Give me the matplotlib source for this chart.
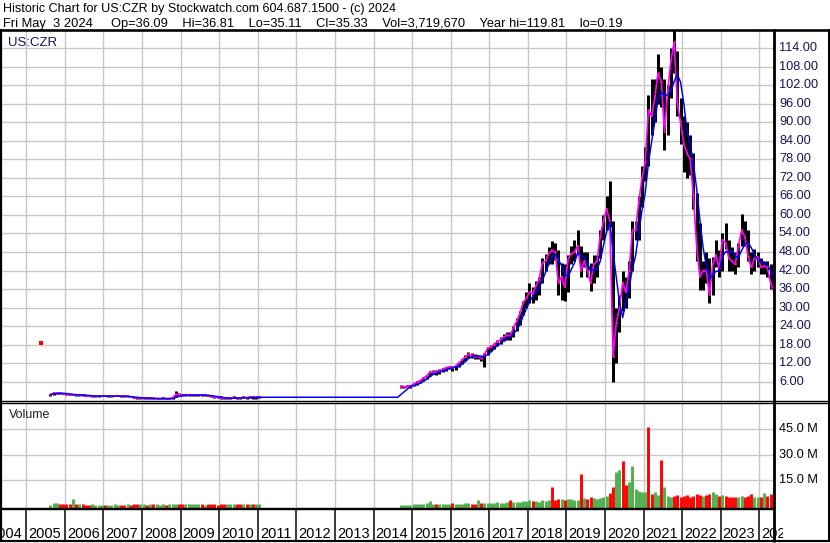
import numpy as np
import pandas as pd
import matplotlib
matplotlib.use('Agg')
import matplotlib.pyplot as plt
from matplotlib.lines import Line2D

plt.rcParams['font.family'] = ['Liberation Sans', 'DejaVu Sans']

# ---------------- data ----------------
header1 = "Historic Chart for US:CZR by Stockwatch.com 604.687.1500 - (c) 2024"
header2 = ("Fri May  3 2024     Op=36.09    Hi=36.81    Lo=35.11    Cl=35.33    "
           "Vol=3,719,670    Year hi=119.81    lo=0.19")
symbol = "US:CZR"

# early period, monthly, 2005-08 .. 2011-01
early_start = '2005-08'
early_high = [2.0, 2.3, 2.75, 2.7, 2.4,
              2.2, 2.1, 2.0, 2.0, 1.9, 1.9, 1.8, 1.6, 1.5, 1.5, 1.5, 1.6,
              1.6, 1.5, 1.5, 1.5, 1.6, 1.5, 1.4, 1.4, 1.3, 1.1, 1.0, 1.0,
              1.0, 0.9, 0.9, 0.9, 0.8, 0.8, 0.9, 0.8, 0.8, 0.9, 3.0, 2.2,
              2.0, 1.9, 1.9, 1.9, 1.9, 1.9, 1.9, 1.8, 1.8, 1.6, 1.4, 1.3,
              1.2, 1.1, 1.0, 1.0, 1.3, 1.1, 1.0, 1.2, 1.1, 1.3, 1.2, 1.1,
              1.2]
early_low = [1.5, 1.7, 2.0, 2.0, 1.9,
             1.7, 1.6, 1.6, 1.5, 1.5, 1.4, 1.3, 1.2, 1.1, 1.1, 1.1, 1.2,
             1.2, 1.1, 1.1, 1.2, 1.2, 1.1, 1.0, 1.0, 0.9, 0.6, 0.5, 0.5,
             0.5, 0.4, 0.4, 0.3, 0.3, 0.3, 0.4, 0.3, 0.3, 0.4, 0.9, 1.3,
             1.3, 1.3, 1.3, 1.4, 1.4, 1.4, 1.4, 1.3, 1.2, 1.0, 0.7, 0.6,
             0.5, 0.4, 0.4, 0.4, 0.6, 0.5, 0.4, 0.6, 0.5, 0.6, 0.5, 0.5,
             0.6]
early_close = [1.8, 2.2, 2.4, 2.3, 2.0,
               1.9, 1.8, 1.8, 1.7, 1.7, 1.6, 1.5, 1.3, 1.3, 1.3, 1.3, 1.4,
               1.3, 1.3, 1.3, 1.4, 1.4, 1.3, 1.2, 1.2, 1.0, 0.8, 0.7, 0.7,
               0.7, 0.6, 0.6, 0.5, 0.5, 0.5, 0.6, 0.5, 0.5, 0.7, 1.9, 1.7,
               1.6, 1.6, 1.6, 1.7, 1.7, 1.7, 1.6, 1.6, 1.5, 1.2, 1.0, 0.9,
               0.8, 0.6, 0.6, 0.6, 0.9, 0.7, 0.6, 0.9, 0.8, 1.0, 0.9, 0.9,
               0.95]
early_vol = [0.6, 1.5, 1.8, 1.2, 1.0,
             1.2, 1.3, 4.0, 1.0, 1.0, 0.9, 0.8, 0.8, 0.9, 0.8, 0.7, 0.8,
             0.8, 0.7, 0.8, 0.9, 0.8, 0.7, 0.8, 0.9, 0.8, 0.9, 1.0, 0.9,
             0.9, 0.8, 0.9, 1.0, 0.9, 0.8, 0.9, 0.8, 0.9, 1.0, 1.2, 1.0,
             1.0, 0.9, 0.9, 1.0, 0.9, 1.0, 0.9, 0.8, 0.9, 1.0, 0.9, 0.8,
             1.0, 1.1, 1.0, 0.9, 1.2, 1.0, 0.9, 1.1, 1.0, 1.2, 1.0, 0.9,
             0.9]

outlier_t = [2005.37]
outlier_p = [18.6]

# recent period, monthly, 2014-09 .. 2024-05
recent_start = '2014-09'
recent_high = [4.8, 4.7, 4.8, 5.0,
               5.6, 6.0, 6.6, 7.6, 8.2, 9.2, 9.8, 9.7, 10.0, 10.4, 10.9, 11.2,
               11.2, 11.5, 12.5, 13.5, 14.5, 15.6, 15.4, 14.8, 14.6, 14.6, 15.2, 17.2,
               18.0, 18.5, 19.5, 20.5, 21.5, 22.0, 22.0, 24.0, 26.6, 29.0, 32.0, 35.2,
               38.0, 36.5, 38.5, 40.0, 46.0, 47.5, 49.5, 51.5, 51.0, 48.5, 44.5, 44.0,
               47.0, 50.0, 52.0, 55.0, 50.0, 48.0, 48.0, 44.4, 47.0, 47.0, 55.0, 60.0,
               66.0, 71.1, 58.0, 30.0, 34.0, 42.0, 40.0, 45.0, 58.0, 58.0, 66.0, 76.0,
               82.0, 99.0, 104.0, 104.0, 112.0, 108.0, 104.0, 102.0, 114.0, 119.8, 113.0, 98.0,
               92.0, 90.0, 86.0, 80.0, 67.0, 57.4, 45.0, 48.0, 46.0, 46.5, 51.9, 48.6,
               54.0, 57.4, 52.0, 49.7, 48.0, 51.0, 60.3, 58.0, 55.0, 48.0, 49.0, 48.0,
               46.0, 45.0, 45.0, 44.0, 37.0]
recent_low = [4.1, 4.0, 4.2, 4.1,
              4.5, 5.0, 5.5, 6.2, 7.0, 7.8, 8.5, 8.2, 8.6, 9.2, 9.6, 10.0,
              9.6, 9.8, 10.8, 11.8, 12.8, 13.6, 13.8, 13.4, 13.2, 12.6, 10.9, 14.6,
              15.8, 16.5, 17.5, 18.2, 19.2, 19.5, 19.5, 20.5, 22.5, 24.5, 27.5, 30.0,
              31.5, 31.5, 32.5, 34.0, 38.0, 42.0, 44.0, 44.0, 45.5, 34.0, 32.5, 32.0,
              35.0, 44.0, 45.0, 47.0, 40.0, 43.0, 40.0, 35.5, 38.0, 40.0, 46.0, 52.0,
              55.0, 56.0, 6.0, 12.0, 22.0, 29.0, 30.0, 33.0, 42.0, 52.0, 52.0, 62.7,
              71.0, 76.0, 86.0, 90.0, 96.0, 95.0, 81.0, 86.0, 98.0, 106.0, 92.0, 83.0,
              74.0, 72.0, 73.0, 62.0, 45.0, 35.7, 35.7, 38.0, 31.5, 34.0, 43.2, 40.0,
              42.0, 49.0, 42.0, 42.0, 41.0, 43.0, 50.0, 50.0, 45.0, 41.0, 42.0, 43.0,
              41.0, 41.0, 40.0, 36.0, 35.0]
recent_close = [4.4, 4.4, 4.5, 4.6,
                5.2, 5.8, 6.3, 7.2, 7.8, 9.0, 9.2, 9.0, 9.5, 10.0, 10.5, 10.8,
                10.4, 11.0, 12.0, 13.0, 14.0, 14.8, 14.5, 14.0, 14.2, 13.5, 14.8, 16.8,
                17.2, 18.0, 19.0, 19.5, 20.5, 21.0, 20.8, 23.5, 25.5, 28.0, 31.5, 33.0,
                35.0, 34.5, 37.0, 39.0, 44.5, 45.0, 47.5, 48.5, 48.0, 38.0, 40.0, 36.5,
                45.5, 47.5, 48.0, 50.0, 42.0, 45.0, 42.0, 38.0, 44.0, 45.0, 53.0, 58.0,
                62.0, 58.0, 14.0, 25.0, 30.0, 38.0, 35.0, 42.0, 55.0, 55.0, 64.0, 72.0,
                77.0, 94.0, 92.0, 98.0, 106.0, 103.0, 87.0, 100.0, 110.0, 116.0, 96.0, 90.0,
                83.0, 80.0, 78.0, 66.0, 50.0, 40.0, 42.0, 42.0, 34.0, 44.0, 47.0, 42.5,
                52.0, 51.0, 46.0, 45.0, 44.0, 50.0, 55.0, 53.0, 46.5, 43.0, 46.0, 46.5,
                43.0, 43.5, 43.0, 38.0, 35.3]
recent_vol = [0.5, 0.6, 0.5, 0.7,
              1.0, 0.9, 1.2, 1.0, 1.5, 2.8, 1.2, 1.0, 1.1, 1.0, 1.2, 1.3,
              1.5, 1.4, 1.2, 1.3, 1.5, 1.6, 1.4, 1.3, 3.2, 1.5, 2.0, 1.8,
              1.8, 2.0, 2.2, 1.6, 2.0, 2.5, 3.5, 2.2, 2.5, 2.4, 2.8, 3.0,
              3.2, 3.0, 2.8, 2.5, 3.5, 3.0, 3.2, 11.0, 3.5, 4.0, 3.8, 3.5,
              4.0, 3.8, 3.5, 3.2, 18.7, 4.5, 4.0, 5.0, 4.5, 4.0, 4.5, 5.5,
              6.0, 7.5, 11.0, 20.0, 21.0, 26.0, 12.0, 14.0, 23.4, 10.0, 9.0, 8.0,
              8.0, 46.0, 7.0, 8.0, 6.5, 27.0, 11.0, 6.0, 5.5, 6.0, 6.5, 5.5,
              6.0, 6.5, 5.5, 6.0, 7.0, 6.5, 6.0, 6.5, 7.0, 8.0, 7.0, 6.0,
              6.5, 6.0, 5.5, 5.0, 5.5, 5.0, 6.0, 5.5, 6.0, 7.0, 5.5, 5.0,
              5.5, 7.7, 6.0, 7.0, 10.7]
# up (g) / down (r) volume colouring per month
recent_vol_dir = ('gggg' 'gggggggrgggg' 'rgggggrrgrgg' 'ggggggrggggg'
                  'grgggggrrrgr' 'ggggrgrrgggg' 'grrggrrggggg'
                  'grrggrgggrrr' 'rrrrrrgrrggr' 'grrrrggrrrgg' 'rgrrg')

price_ticks = [114, 108, 102, 96, 90, 84, 78, 72, 66, 60, 54, 48, 42, 36,
               30, 24, 18, 12, 6]
vol_ticks = [45, 30, 15]
vol_tick_labels = ['45.0 M', '30.0 M', '15.0 M']
year_labels = list(range(2004, 2025))

# ---------------- build series ----------------
def months(start, n):
    p = pd.period_range(start, periods=n, freq='M')
    return p, np.asarray(p.year + (p.month - 0.5) / 12.0, dtype=float)

ep, et = months(early_start, len(early_close))
rp, rt = months(recent_start, len(recent_close))

full = pd.period_range(early_start, rp[-1], freq='M')
close_full = pd.Series(np.nan, index=full)
close_full.loc[ep] = early_close
close_full.loc[rp] = recent_close
t_full = np.asarray(full.year + (full.month - 0.5) / 12.0, dtype=float)
ma_long = close_full.ffill().rolling(4, min_periods=1).mean().values

early_c = np.array(early_close)
early_dir = ['g'] + ['g' if b >= a else 'r' for a, b in zip(early_c[:-1], early_c[1:])]
col = {'g': '#4cb04c', 'r': '#ff0000'}

# ---------------- layout ----------------
W, H = 830, 543
fig = plt.figure(figsize=(W / 100, H / 100), dpi=100)

def rect(x0, y0, x1, y1):
    return [x0 / W, 1 - y1 / H, (x1 - x0) / W, (y1 - y0) / H]

X0, X1 = 2, 774
YR0_PX, PX_YR = 26.3, 38.58
def px2t(x):
    return 2005 + (x - YR0_PX) / PX_YR
PX = 0.72  # points per pixel

ax = fig.add_axes(rect(X0, 30, X1, 400.5))
axv = fig.add_axes(rect(X0, 402.5, X1, 509))
BX1 = 783
axb = fig.add_axes(rect(X0, 509, BX1, 541))

grid_c = '#c8c8c8'
for a in (ax, axv, axb):
    for s in a.spines.values():
        s.set_visible(False)
    a.tick_params(length=0, labelbottom=False, labelleft=False)
    a.set_xticks(range(2005, 2025))
    a.patch.set_alpha(0)
ax.set_xlim(px2t(X0), px2t(X1))
axv.set_xlim(px2t(X0), px2t(X1))
axb.set_xlim(px2t(X0), px2t(BX1))

ax.set_ylim(-0.1, 119.9)
ax.set_yticks(price_ticks)
ax.grid(True, color=grid_c, lw=1.4 * PX, zorder=0)
axv.set_ylim(-1.8, 60.5)
axv.set_yticks(vol_ticks)
axv.grid(True, color=grid_c, lw=1.4 * PX, zorder=0)
axb.set_ylim(0, 1)
axb.set_yticks([])

# ---------------- price panel ----------------
bw = 3.0 * PX
ax.vlines(et, early_low, early_high, color='black', lw=bw, zorder=2)
ax.vlines(rt, recent_low, recent_high, color='black', lw=bw, zorder=2)
ax.plot(et + 0.012, early_close, 's', color='red', ms=2.0, mew=0, zorder=3)
ax.plot(rt + 0.012, recent_close, 's', color='red', ms=2.0, mew=0, zorder=3)
ax.plot(outlier_t, outlier_p, 's', color='red', ms=2.4, mew=0, zorder=3)
ax.plot(et, early_close, color='#ff00ff', lw=1.7 * PX, zorder=4)
ax.plot(rt, recent_close, color='#ff00ff', lw=1.7 * PX, zorder=4)
ax.plot(t_full, ma_long, color='#0000ff', lw=1.5 * PX, zorder=5)

# ---------------- volume panel ----------------
vlo = axv.get_ylim()[0]
axv.vlines(et, vlo, early_vol, colors=[col[d] for d in early_dir],
           lw=2.9 * PX, zorder=2)
axv.vlines(rt, vlo, recent_vol, colors=[col[d] for d in recent_vol_dir],
           lw=2.9 * PX, zorder=2)

# ---------------- date band ----------------
axb.vlines(range(2005, 2025), 0, 1, color='black', lw=1.5 * PX)
for yr in year_labels:
    axb.text(yr + 2.0 / PX_YR, 0.08, str(yr), fontsize=10.5,
             ha='left', va='baseline', color='black', clip_on=True)

# ---------------- texts ----------------
lab_x = (779 - X0) / (X1 - X0)
for v in price_ticks:
    ax.text(lab_x, v, f"{v:.2f}", transform=ax.get_yaxis_transform(),
            fontsize=9.2, color='#14145a', ha='left', va='center', clip_on=False)
for v, s in zip(vol_ticks, vol_tick_labels):
    axv.text(lab_x, v, s, transform=axv.get_yaxis_transform(),
             fontsize=9.2, color='black', ha='left', va='center', clip_on=False)

fig.text(3 / W, 1 - 11.7 / H, header1, fontsize=9.0, ha='left', va='baseline')
fig.text(3 / W, 1 - 27.0 / H, header2, fontsize=9.3, ha='left', va='baseline')
fig.text(8 / W, 1 - 46 / H, symbol, fontsize=9.5, color='#14145a',
         ha='left', va='baseline')
fig.text(9 / W, 1 - 418 / H, "Volume", fontsize=9, color='#222222',
         ha='left', va='baseline')

# ---------------- frame lines ----------------
def hline(y, x0, x1, lw):
    fig.add_artist(Line2D([x0 / W, x1 / W], [1 - y / H, 1 - y / H],
                          color='black', lw=lw * PX, solid_capstyle='butt'))

def vline(x, y0, y1, lw):
    fig.add_artist(Line2D([x / W, x / W], [1 - y0 / H, 1 - y1 / H],
                          color='black', lw=lw * PX, solid_capstyle='butt'))

hline(29.8, 0, W, 2.6)
hline(400.8, 0, W, 1.4)
hline(403.3, 0, W, 1.4)
hline(509.3, 0, 774, 2.4)
hline(540.8, 0, W, 2.2)
vline(1.0, 29, 542, 2.2)
vline(774.2, 29, 542, 2.8)
vline(829.0, 29, 542, 2.0)

fig.savefig('out.png', dpi=100)
